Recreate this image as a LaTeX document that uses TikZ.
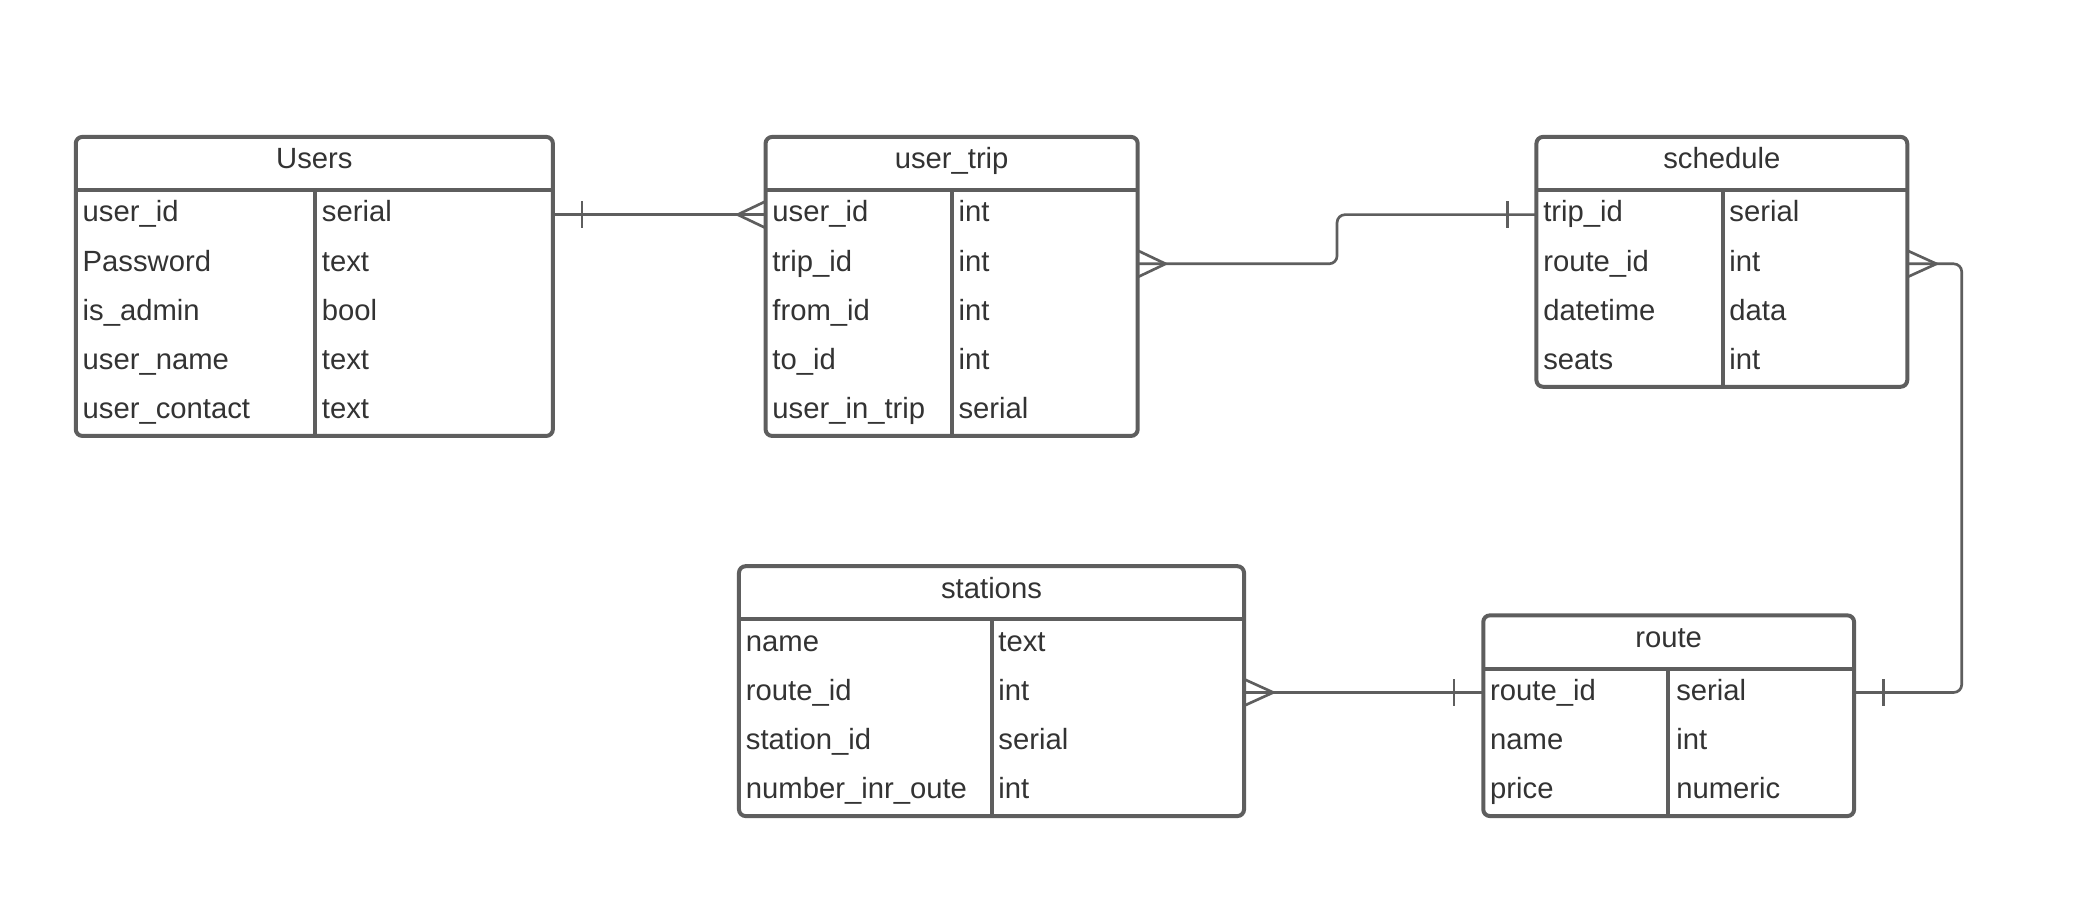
\documentclass[tikz,border=0pt]{standalone}
\usepackage{fontspec}
\setmainfont{Liberation Sans}
\definecolor{lc}{HTML}{5E5E5E}
\definecolor{tc}{HTML}{333333}
\begin{document}
\begin{tikzpicture}[x=1pt,y=-1pt,
  tbl/.style={draw=lc, line width=3pt, rounded corners=5pt, inner sep=0pt, outer sep=0pt, anchor=north west},
  sep/.style={draw=lc, line width=3pt},
  cell/.style={anchor=base west, inner sep=0pt, text=tc, font=\fontsize{22}{26}\selectfont},
  ttl/.style={anchor=base, inner sep=0pt, text=tc, font=\fontsize{22}{26}\selectfont},
  rel/.style={draw=lc, line width=2pt, rounded corners=6pt}]
\useasboundingbox (0,0) rectangle (1568,677.2);
\fill[white] (0,0) rectangle (1568,677.2);

% ---------- Users ----------
\node[tbl, minimum width=359pt, minimum height=225pt] (users) at (57,103) {};
\draw[sep] (users.west |- 0,143) -- (users.east |- 0,143);
\draw[sep] (237,143) -- (237,328);
\node[ttl] (users-t) at (236.5,127) {Users};
\foreach \a/\b [count=\i] in {user\_id/serial,Password/text,is\_admin/bool,user\_name/text,user\_contact/text}{
  \node[cell] (users-a\i) at (62,{130+37*\i}) {\a};
  \node[cell] (users-b\i) at (242,{130+37*\i}) {\b};
}

% ---------- user_trip ----------
\node[tbl, minimum width=280pt, minimum height=225pt] (ut) at (576,103) {};
\draw[sep] (ut.west |- 0,143) -- (ut.east |- 0,143);
\draw[sep] (716,143) -- (716,328);
\node[ttl] (ut-t) at (716,127) {user\_trip};
\foreach \a/\b [count=\i] in {user\_id/int,trip\_id/int,from\_id/int,to\_id/int,user\_in\_trip/serial}{
  \node[cell] (ut-a\i) at (581,{130+37*\i}) {\a};
  \node[cell] (ut-b\i) at (721,{130+37*\i}) {\b};
}

% ---------- schedule ----------
\node[tbl, minimum width=279pt, minimum height=188pt] (sch) at (1156,103) {};
\draw[sep] (sch.west |- 0,143) -- (sch.east |- 0,143);
\draw[sep] (1296,143) -- (1296,291);
\node[ttl] (sch-t) at (1295.5,127) {schedule};
\foreach \a/\b [count=\i] in {trip\_id/serial,route\_id/int,datetime/data,seats/int}{
  \node[cell] (sch-a\i) at (1161,{130+37*\i}) {\a};
  \node[cell] (sch-b\i) at (1301,{130+37*\i}) {\b};
}

% ---------- stations ----------
\node[tbl, minimum width=380pt, minimum height=188pt] (st) at (556,426) {};
\draw[sep] (st.west |- 0,466) -- (st.east |- 0,466);
\draw[sep] (746,466) -- (746,614);
\node[ttl] (st-t) at (746,450) {stations};
\foreach \a/\b [count=\i] in {name/text,route\_id/int,station\_id/serial,number\_inr\_oute/int}{
  \node[cell] (st-a\i) at (561,{453+37*\i}) {\a};
  \node[cell] (st-b\i) at (751,{453+37*\i}) {\b};
}

% ---------- route ----------
\node[tbl, minimum width=279pt, minimum height=151pt] (rt) at (1116,463) {};
\draw[sep] (rt.west |- 0,503) -- (rt.east |- 0,503);
\draw[sep] (1255,503) -- (1255,614);
\node[ttl] (rt-t) at (1255.5,487) {route};
\foreach \a/\b [count=\i] in {route\_id/serial,name/int,price/numeric}{
  \node[cell] (rt-a\i) at (1121,{490+37*\i}) {\a};
  \node[cell] (rt-b\i) at (1261,{490+37*\i}) {\b};
}

% ---------- relationships ----------
\coordinate (y1) at (0,161.5);
\coordinate (y2) at (0,198.5);
\coordinate (y3) at (0,521);

% Users -- user_trip
\draw[rel] (users.east |- y1) -- (ut.west |- y1);
\draw[rel] (438,151.5) -- (438,171.5);
\draw[rel,rounded corners=0pt] (ut.west |- 0,151.5) -- (555,161.5) -- (ut.west |- 0,171.5);

% user_trip -- schedule
\draw[rel] (ut.east |- y2) -- (1006,198.5) -- (1006,161.5) -- (sch.west |- y1);
\draw[rel] (1134,151.5) -- (1134,171.5);
\draw[rel,rounded corners=0pt] (ut.east |- 0,188.5) -- (877,198.5) -- (ut.east |- 0,208.5);

% schedule -- route
\draw[rel] (sch.east |- y2) -- (1476,198.5) -- (1476,521) -- (rt.east |- y3);
\draw[rel] (1417,511) -- (1417,531);
\draw[rel,rounded corners=0pt] (sch.east |- 0,188.5) -- (1457,198.5) -- (sch.east |- 0,208.5);

% stations -- route
\draw[rel] (st.east |- y3) -- (rt.west |- y3);
\draw[rel] (1094,511) -- (1094,531);
\draw[rel,rounded corners=0pt] (st.east |- 0,511) -- (958,521) -- (st.east |- 0,531);
\end{tikzpicture}
\end{document}
